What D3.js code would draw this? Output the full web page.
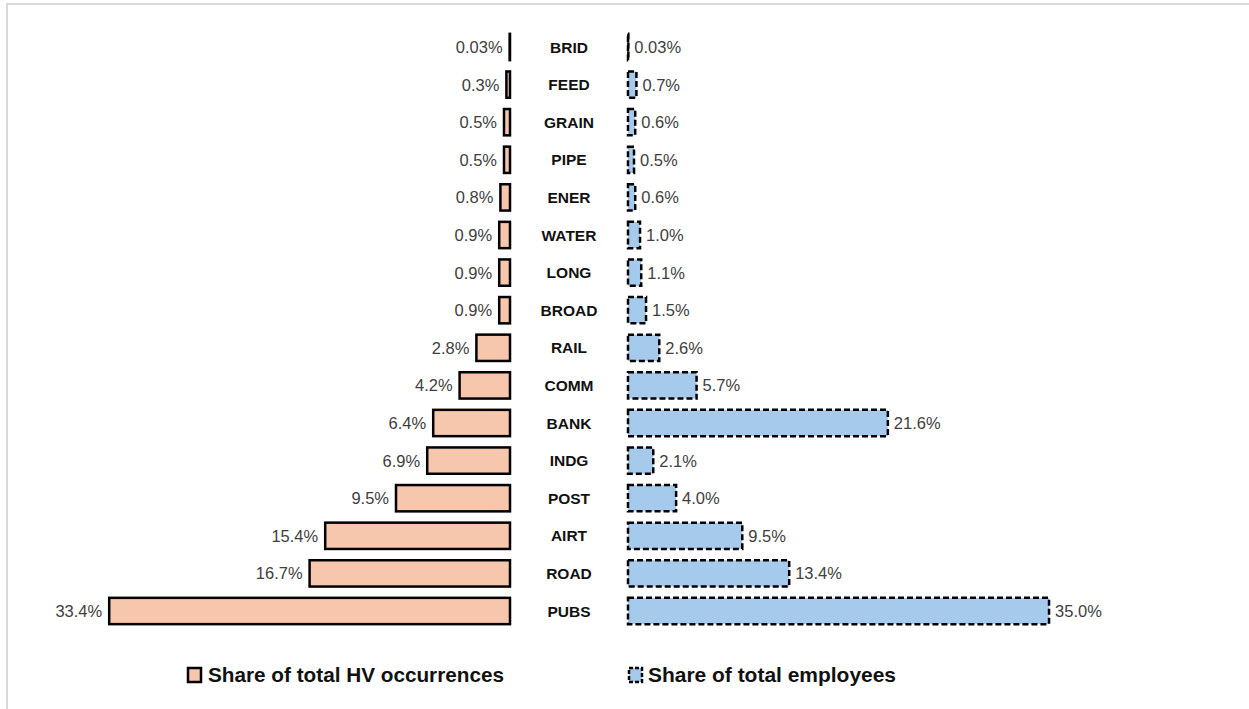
<!DOCTYPE html>
<html>
<head>
<meta charset="utf-8">
<script src="https://cdn.jsdelivr.net/npm/d3@7/dist/d3.min.js"></script>
<style>
  html, body { margin: 0; padding: 0; background: #fff; }
  svg { display: block; }
</style>
</head>
<body>
<script>
// Sector codes, top to bottom
const categories = ["BRID", "FEED", "GRAIN", "PIPE", "ENER", "WATER", "LONG", "BROAD",
  "RAIL", "COMM", "BANK", "INDG", "POST", "AIRT", "ROAD", "PUBS"];
// Share of total HV occurrences (%)
const hvShare = [0.03, 0.3, 0.5, 0.5, 0.8, 0.9, 0.9, 0.9, 2.8, 4.2, 6.4, 6.9, 9.5, 15.4, 16.7, 33.4];
// Share of total employees (%)
const empShare = [0.03, 0.7, 0.6, 0.5, 0.6, 1.0, 1.1, 1.5, 2.6, 5.7, 21.6, 2.1, 4.0, 9.5, 13.4, 35.0];
const seriesNames = ["Share of total HV occurrences", "Share of total employees"];

const W = 1249, H = 709;
const svg = d3.select("body").append("svg").attr("width", W).attr("height", H);

// chart-area frame (clipped on the right and bottom)
svg.append("rect")
  .attr("x", 7).attr("y", 4).attr("width", W + 20).attr("height", H + 20)
  .attr("fill", "none").attr("stroke", "#d9d9d9").attr("stroke-width", 2);

const peach = "#f6c6ad", blue = "#a6caec";
const labelColor = "#404040";
const numFont = "'Liberation Sans', Arial, sans-serif";
const boldFont = "'Liberation Sans Narrow', 'Liberation Sans', Arial, sans-serif";

const y = d3.scaleBand().domain(categories).range([28.2, 629.8]).paddingInner(0.3).paddingOuter(0.15);
const xMax = 35;
const xLeft = d3.scaleLinear().domain([0, xMax]).range([510, 510 - 12.0 * xMax]);
const xRight = d3.scaleLinear().domain([0, xMax]).range([628, 628 + 12.03 * xMax]);
const fmt = v => (v < 0.1 ? d3.format(".2f")(v) : d3.format(".1f")(v)) + "%";

const rows = categories.map((c, i) => ({ c, hv: hvShare[i], emp: empShare[i] }));
const bh = y.bandwidth();

// left bars: HV occurrences
const left = svg.append("g");
left.selectAll("rect").data(rows).join("rect")
  .attr("x", d => xLeft(d.hv))
  .attr("y", d => y(d.c))
  .attr("width", d => xLeft(0) - xLeft(d.hv))
  .attr("height", bh)
  .attr("fill", peach).attr("stroke", "#000").attr("stroke-width", 2.5);
left.selectAll("text").data(rows).join("text")
  .attr("x", d => xLeft(d.hv) - 7)
  .attr("y", d => y(d.c) + bh / 2)
  .attr("dy", "0.36em")
  .attr("text-anchor", "end")
  .attr("font-family", numFont).attr("font-size", 16.5).attr("fill", labelColor)
  .text(d => fmt(d.hv));

// right bars: employees
const right = svg.append("g");
right.selectAll("rect").data(rows).join("rect")
  .attr("x", xRight(0))
  .attr("y", d => y(d.c))
  .attr("width", d => xRight(d.emp) - xRight(0))
  .attr("height", bh)
  .attr("fill", blue).attr("stroke", "#000").attr("stroke-width", 2.5)
  .attr("stroke-dasharray", "6,3");
right.selectAll("text").data(rows).join("text")
  .attr("x", d => xRight(d.emp) + 6)
  .attr("y", d => y(d.c) + bh / 2)
  .attr("dy", "0.36em")
  .attr("text-anchor", "start")
  .attr("font-family", numFont).attr("font-size", 16.5).attr("fill", labelColor)
  .text(d => fmt(d.emp));

// category labels in the middle
svg.append("g").selectAll("text").data(categories).join("text")
  .attr("x", 569)
  .attr("y", d => y(d) + bh / 2)
  .attr("dy", "0.36em")
  .attr("text-anchor", "middle")
  .attr("font-family", numFont).attr("font-weight", "bold").attr("font-size", 15.5)
  .attr("fill", "#111")
  .text(d => d);

// legend
const legend = [
  { name: seriesNames[0], fill: peach, dash: null, sx: 188, tx: 208, tw: 296 },
  { name: seriesNames[1], fill: blue, dash: "4,2", sx: 629, tx: 648, tw: 248 }
];
const lg = svg.append("g");
legend.forEach(l => {
  lg.append("rect")
    .attr("x", l.sx).attr("y", 668).attr("width", 13).attr("height", 14)
    .attr("fill", l.fill).attr("stroke", "#000").attr("stroke-width", 2.5)
    .attr("stroke-dasharray", l.dash);
  lg.append("text")
    .attr("x", l.tx).attr("y", 682)
    .attr("font-family", boldFont).attr("font-weight", "bold").attr("font-size", 21)
    .attr("fill", "#111")
    .attr("textLength", l.tw).attr("lengthAdjust", "spacingAndGlyphs")
    .text(l.name);
});
</script>
</body>
</html>
